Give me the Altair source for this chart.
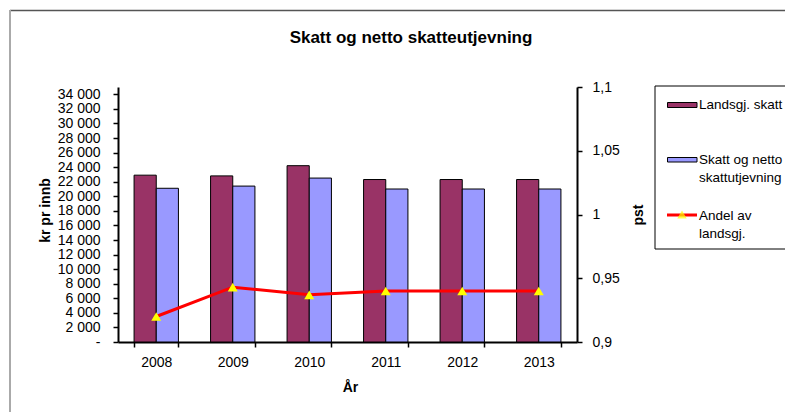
import altair as alt
import pandas as pd

years = ["2008", "2009", "2010", "2011", "2012", "2013"]
landsgj_skatt = [22900, 22800, 24200, 22300, 22300, 22300]
skatt_netto = [21100, 21400, 22500, 21000, 21000, 21000]
andel = [0.920, 0.943, 0.937, 0.940, 0.940, 0.940]

series_names = ["Landsgj. skatt", "Skatt og netto skattutjevning"]
series_colors = ["#993366", "#9999FF"]
line_name = "Andel av landsgj."
chart_title = "Skatt og netto skatteutjevning"

left_ticks = list(range(0, 34001, 2000))
right_ticks = [0.9, 0.95, 1.0, 1.05, 1.1]

FONT = "Liberation Sans"
W, H = 459, 255
LBL = 14

bars_df = pd.DataFrame(
    [{"year": y, "series": series_names[0], "value": v} for y, v in zip(years, landsgj_skatt)]
    + [{"year": y, "series": series_names[1], "value": v} for y, v in zip(years, skatt_netto)]
)
line_df = pd.DataFrame({"year": years, "andel": andel})

xscale = alt.Scale(domain=years, paddingInner=0.42, paddingOuter=0.21)
xaxis = alt.Axis(
    title="År", titleFont=FONT, titleFontSize=14, titleFontWeight="bold", titleColor="black",
    titleX=232, titleY=45, titleBaseline="middle",
    labelFont=FONT, labelFontSize=LBL, labelColor="black", labelAngle=0, labelPadding=8,
    tickBand="extent", tickSize=5, tickColor="black", tickWidth=1.5,
    domainColor="black", domainWidth=2,
)

bars = alt.Chart(bars_df).mark_bar(stroke="black", strokeWidth=1).encode(
    x=alt.X("year:N", scale=xscale, axis=xaxis, sort=years),
    xOffset=alt.XOffset("series:N", sort=series_names,
                        scale=alt.Scale(domain=series_names, paddingInner=0, paddingOuter=0)),
    y=alt.Y("value:Q", scale=alt.Scale(domain=[0, 35000], nice=False, zero=True),
            axis=alt.Axis(
                values=left_ticks, labelOverlap=False,
                labelExpr="datum.value == 0 ? '-' : replace(format(datum.value, ','), ',', ' ')",
                title="kr pr innb", titleFont=FONT, titleFontSize=14, titleFontWeight="bold",
                titleColor="black", titleX=-73, titleY=123, titleAngle=-90, titleBaseline="middle",
                labelFont=FONT, labelFontSize=LBL, labelColor="black", labelPadding=13,
                tickSize=5, tickColor="black", tickWidth=1.5, domainColor="black", domainWidth=2,
                grid=False,
            )),
    color=alt.Color("series:N", scale=alt.Scale(domain=series_names, range=series_colors), legend=None),
)

line = alt.Chart(line_df).mark_line(
    color="#FF0000", strokeWidth=3,
    point=alt.OverlayMarkDef(shape="triangle-up", fill="#FFFF00", filled=True, size=100, strokeWidth=0),
).encode(
    x=alt.X("year:N", scale=xscale, axis=xaxis, sort=years),
    y=alt.Y("andel:Q", scale=alt.Scale(domain=[0.9, 1.1], nice=False, zero=False),
            axis=alt.Axis(
                orient="right", values=right_ticks, labelOverlap=False,
                labelExpr="replace(format(datum.value, '.2~f'), '.', ',')",
                title="pst", titleFont=FONT, titleFontSize=14, titleFontWeight="bold",
                titleColor="black", titleX=61, titleY=H / 2, titleAngle=-90, titleBaseline="middle",
                labelFont=FONT, labelFontSize=LBL, labelColor="black", labelPadding=10,
                tickSize=5, tickColor="black", tickWidth=1.5, domainColor="black", domainWidth=2,
                grid=False,
            )),
)

# Title, legend (drawn manually) and chart-area border
one = pd.DataFrame({"k": [0]})
base = alt.Chart(one)
title = base.mark_text(align="center", baseline="middle", font=FONT, fontSize=17,
                       fontWeight="bold", color="black").encode(
    x=alt.value(293), y=alt.value(-49.5), text=alt.value(chart_title))
legend_box = base.mark_rect(fill="white", stroke="black", strokeWidth=1).encode(
    x=alt.value(537), x2=alt.value(673), y=alt.value(-1), y2=alt.value(162))
sw1 = base.mark_rect(fill=series_colors[0], stroke="black", strokeWidth=1).encode(
    x=alt.value(549.5), x2=alt.value(579), y=alt.value(15.5), y2=alt.value(20.5))
sw2 = base.mark_rect(fill=series_colors[1], stroke="black", strokeWidth=1).encode(
    x=alt.value(549.5), x2=alt.value(579), y=alt.value(70.5), y2=alt.value(75))
sw3 = base.mark_rule(color="#FF0000", strokeWidth=3).encode(
    x=alt.value(549), x2=alt.value(579), y=alt.value(128))
sw3p = base.mark_point(shape="triangle-up", fill="#FFFF00", filled=True, size=90, strokeWidth=0).encode(
    x=alt.value(564), y=alt.value(127.5))
LEG = 13.5
t1 = base.mark_text(align="left", baseline="middle", font=FONT, fontSize=LEG, color="black").encode(
    x=alt.value(581), y=alt.value(18), text=alt.value(series_names[0]))
t2 = base.mark_text(align="left", baseline="middle", font=FONT, fontSize=LEG, color="black",
                    lineBreak="\n", lineHeight=17.5).encode(
    x=alt.value(581), y=alt.value(73), text=alt.value("Skatt og netto\nskattutjevning"))
t3 = base.mark_text(align="left", baseline="middle", font=FONT, fontSize=LEG, color="black",
                    lineBreak="\n", lineHeight=17.5).encode(
    x=alt.value(581), y=alt.value(129), text=alt.value("Andel av\nlandsgj."))
border_top = base.mark_rule(color="#555555", strokeWidth=1.5).encode(
    x=alt.value(-108), x2=alt.value(690), y=alt.value(-76.5))
border_left = base.mark_rule(color="#AAAAAA", strokeWidth=2).encode(
    x=alt.value(-108), y=alt.value(-77), y2=alt.value(330))

chart = alt.layer(
    bars, line, title, legend_box, sw1, sw2, sw3, sw3p, t1, t2, t3, border_top, border_left
).resolve_scale(y="independent").properties(
    width=W, height=H,
    autosize=alt.AutoSizeParams(type="none"),
    padding={"left": 110, "top": 79, "right": 208, "bottom": 70},
).configure_view(stroke=None)

chart.save("out.html", embed_options={"renderer": "svg", "actions": False})
